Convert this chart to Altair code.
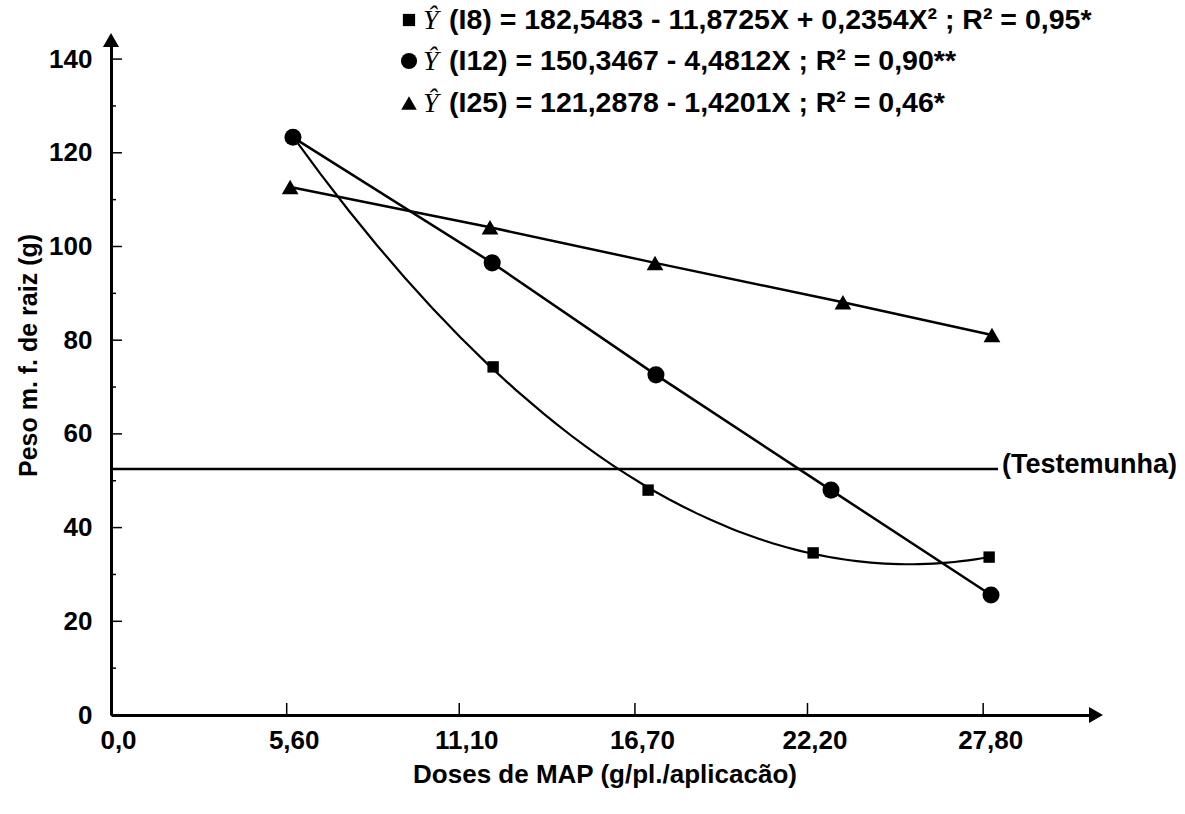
import altair as alt
import pandas as pd

# Eixo x: doses de MAP (g/pl./aplicação)
dose_ticks = [0.0, 5.6, 11.1, 16.7, 22.2, 27.8]
dose_labels = ["0,0", "5,60", "11,10", "16,70", "22,20", "27,80"]
# Eixo y: peso da matéria fresca de raiz (g)
peso_ticks = [0, 20, 40, 60, 80, 100, 120, 140]
peso_minor = [10, 30, 50, 70, 90, 110, 130]

# Médias observadas por tratamento
i8_dose = [5.80, 12.18, 17.12, 22.38, 27.99]
i8_peso = [123.3, 74.3, 48.0, 34.6, 33.7]
i12_dose = [5.80, 12.15, 17.37, 22.95, 28.05]
i12_peso = [123.3, 96.5, 72.6, 48.0, 25.6]
i25_dose = [5.71, 12.08, 17.34, 23.33, 28.08]
i25_peso = [112.7, 104.1, 96.5, 88.1, 81.1]

# Nível da testemunha (sem MAP)
testemunha = [52.5]

legend_shapes = ["square", "circle", "triangle-up"]
legend_sizes = [150, 260, 240]
legend_texts = [
    "(I8) = 182,5483 - 11,8725X + 0,2354X² ; R² = 0,95*",
    "(I12) = 150,3467 - 4,4812X  ; R² = 0,90**",
    "(I25) = 121,2878 - 1,4201X ; R² = 0,46*",
]

W, H = 987, 677
FONT = "Liberation Sans"
INK = "black"

x_scale = alt.Scale(domain=[0, 31.46], nice=False, zero=True)
y_scale = alt.Scale(domain=[0, 144.5], nice=False, zero=True)

label_expr = (
    "[" + ",".join(f"'{s}'" for s in dose_labels) + "]"
    + "[indexof([" + ",".join(f"{v:g}" for v in dose_ticks) + "], datum.value)]"
)

x_axis = alt.Axis(
    values=dose_ticks, labelExpr=label_expr, ticks=False, tickSize=0, grid=False,
    domainColor=INK, domainWidth=3, labelFont=FONT, labelFontWeight="bold",
    labelFontSize=26, labelColor=INK, labelPadding=12, labelFlush=False,
    labelOffset=7,
    title="Doses de MAP (g/pl./aplicacão)", titleFont=FONT, titleFontWeight="bold",
    titleFontSize=26, titleColor=INK, titleY=59, titleBaseline="middle",
)
y_axis = alt.Axis(
    values=peso_ticks, ticks=False, tickSize=0, grid=False,
    domainColor=INK, domainWidth=3, labelFont=FONT, labelFontWeight="bold",
    labelFontSize=26, labelColor=INK, labelPadding=19,
    title="Peso m. f. de raiz (g)", titleFont=FONT, titleFontWeight="bold",
    titleFontSize=25, titleColor=INK, titleX=-83, titleY=317,
    titleAlign="center", titleBaseline="middle", titleAngle=270,
)


def frame(dose, peso):
    return pd.DataFrame({"dose": dose, "peso": peso})


df8, df12, df25 = frame(i8_dose, i8_peso), frame(i12_dose, i12_peso), frame(i25_dose, i25_peso)


def X():
    return alt.X("dose:Q", scale=x_scale, axis=x_axis)


def Y():
    return alt.Y("peso:Q", scale=y_scale, axis=y_axis)


# Linha da testemunha
test_line = alt.Chart(pd.DataFrame({"peso": testemunha})).mark_rule(
    color=INK, strokeWidth=2.5
).encode(y=Y(), x=alt.value(0), x2=alt.value(887))
test_label = alt.Chart(pd.DataFrame({"peso": testemunha})).mark_text(
    text="(Testemunha)", font=FONT, fontWeight="bold", fontSize=27, color=INK,
    align="left", baseline="middle", dy=-4,
).encode(y=Y(), x=alt.value(891))

# I8: ajuste quadrático
i8_curve = alt.Chart(df8).transform_regression(
    "dose", "peso", method="poly", order=2
).mark_line(color=INK, strokeWidth=2.2).encode(x=X(), y=Y())
i8_pts = alt.Chart(df8).mark_point(
    shape="square", filled=True, size=130, color=INK, opacity=1
).encode(x=X(), y=Y())

# I12 e I25: retas
i12_line = alt.Chart(df12).mark_line(color=INK, strokeWidth=2.5).encode(x=X(), y=Y())
i12_pts = alt.Chart(df12).mark_point(
    shape="circle", filled=True, size=290, color=INK, opacity=1
).encode(x=X(), y=Y())
i25_line = alt.Chart(df25).mark_line(color=INK, strokeWidth=2.5).encode(x=X(), y=Y())
i25_pts = alt.Chart(df25).mark_point(
    shape="triangle-up", filled=True, size=280, color=INK, opacity=1
).encode(x=X(), y=Y())

# Marcas de escala voltadas para dentro
y_major = alt.Chart(pd.DataFrame({"peso": peso_ticks})).mark_rule(
    color=INK, strokeWidth=1.5).encode(y=Y(), x=alt.value(0), x2=alt.value(11))
y_minor = alt.Chart(pd.DataFrame({"peso": peso_minor})).mark_rule(
    color=INK, strokeWidth=1.5).encode(y=Y(), x=alt.value(0), x2=alt.value(5))
x_major = alt.Chart(pd.DataFrame({"dose": dose_ticks[1:]})).mark_rule(
    color=INK, strokeWidth=1.5).encode(x=X(), y=alt.value(H), y2=alt.value(H - 12))

# Setas nas extremidades dos eixos
one = pd.DataFrame({"k": [0]})
arrow_y = alt.Chart(one).mark_point(
    shape="triangle-up", filled=True, size=260, color=INK, opacity=1
).encode(x=alt.value(0), y=alt.value(2))
arrow_x = alt.Chart(one).mark_point(
    shape="triangle-right", filled=True, size=260, color=INK, opacity=1
).encode(x=alt.value(W - 2), y=alt.value(H))

# Equações de regressão no topo
legend_layers = []
row_y = [-18, 23, 65]
for shape, size, text, ry in zip(legend_shapes, legend_sizes, legend_texts, row_y):
    legend_layers.append(
        alt.Chart(one).mark_point(shape=shape, filled=True, size=size, color=INK, opacity=1)
        .encode(x=alt.value(298), y=alt.value(ry))
    )
    legend_layers.append(
        alt.Chart(one).mark_text(
            text="Ŷ", font="Liberation Serif", fontStyle="italic", fontSize=28,
            color=INK, align="left", baseline="middle",
        ).encode(x=alt.value(312), y=alt.value(ry + 1))
    )
    legend_layers.append(
        alt.Chart(one).mark_text(
            text=text, font=FONT, fontWeight="bold", fontSize=28.5, color=INK,
            align="left", baseline="middle",
        ).encode(x=alt.value(338), y=alt.value(ry))
    )

chart = alt.layer(
    test_line, i8_curve, i12_line, i25_line, i8_pts, i12_pts, i25_pts,
    y_major, y_minor, x_major, arrow_y, arrow_x, test_label, *legend_layers,
).properties(
    width=W, height=H,
    autosize=alt.AutoSizeParams(type="none"),
    padding={"left": 111, "top": 38, "right": 87, "bottom": 99},
    background="white",
).configure_view(stroke=None)

chart.save("out.html", embed_options={"renderer": "svg", "actions": False})
